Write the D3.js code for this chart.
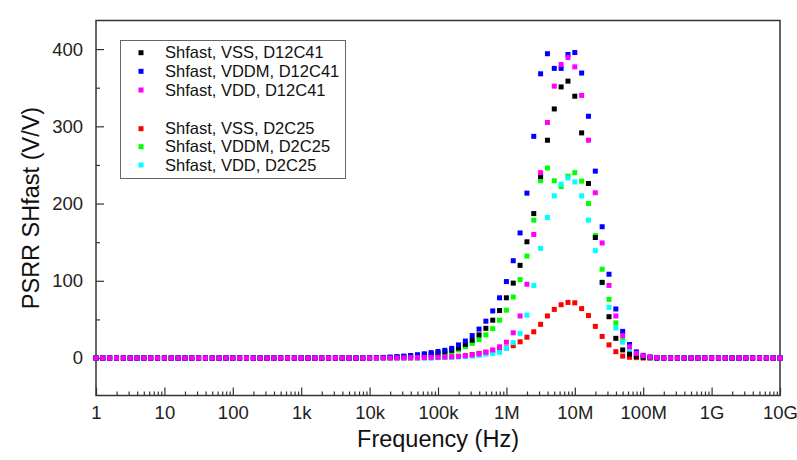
<!DOCTYPE html>
<html>
<head>
<meta charset="utf-8">
<script src="https://cdn.jsdelivr.net/npm/d3@7"></script>
<style>
  body { margin: 0; background: #fff; }
  svg { font-family: "Liberation Sans", Arial, sans-serif; }
  .axis path { display: none; }
  .axis line { stroke: #333; stroke-width: 1.2; }
  .axis text { fill: #222; font-size: 18.5px; }
</style>
</head>
<body>
<div id="chart"></div>
<script>
// Frequency sweep, log10(Hz), 10 points per decade
const logFreq = [
  0,0.1,0.2,0.3,0.4,0.5,0.6,0.7,0.8,0.9,
  1,1.1,1.2,1.3,1.4,1.5,1.6,1.7,1.8,1.9,
  2,2.1,2.2,2.3,2.4,2.5,2.6,2.7,2.8,2.9,
  3,3.1,3.2,3.3,3.4,3.5,3.6,3.7,3.8,3.9,
  4,4.1,4.2,4.3,4.4,4.5,4.6,4.7,4.8,4.9,
  5,5.1,5.2,5.3,5.4,5.5,5.6,5.7,5.8,5.9,
  6,6.1,6.2,6.3,6.4,6.5,6.6,6.7,6.8,6.9,
  7,7.1,7.2,7.3,7.4,7.5,7.6,7.7,7.8,7.9,
  8,8.1,8.2,8.3,8.4,8.5,8.6,8.7,8.8,8.9,
  9,9.1,9.2,9.3,9.4,9.5,9.6,9.7,9.8,9.9,
  10
];

// PSRR values (V/V), one per frequency point
const vssD12 = [
  0,0,0,0,0,0,0,0,0,0,
  0,0,0,0,0,0,0,0,0,0,
  0,0,0,0,0,0,0,0,0,0,
  0,0,0,0,0,0,0,0,0,0,
  0.2,0.4,0.6,0.9,1.3,1.8,2.4,3.2,4.2,5.3,
  6.5,8,10,13,17.5,23,30,38.5,49,61.5,
  78,97,120,150.5,187,235,282,322.5,351,358.5,
  339,291.5,226,156,98,53.5,25.5,10.5,5,2,
  1,0.5,0,0,0,0,0,0,0,0,
  0,0,0,0,0,0,0,0,0,0,
  0
];
const vddmD12 = [
  0,0,0,0,0,0,0,0,0,0,
  0,0,0,0,0,0,0,0,0,0,
  0,0,0,0,0,0,0,0,0,0,
  0,0,0,0,0,0,0,0,0,0,
  0.3,0.5,0.8,1.2,1.8,2.5,3.3,4.3,5.5,7,
  8.5,10,12.5,17,22,29,37.5,47.7,61,78,
  99,126,162,213.5,287,368,394,375,375,393,
  395.5,369,313,242,170,108.5,63.5,34.5,17.5,8,
  3.5,1.5,0.5,0,0,0,0,0,0,0,
  0,0,0,0,0,0,0,0,0,0,
  0
];
const vddD12 = [
  0,0,0,0,0,0,0,0,0,0,
  0,0,0,0,0,0,0,0,0,0,
  0,0,0,0,0,0,0,0,0,0,
  0,0,0,0,0,0,0,0,0,0,
  0,0,0,0,0.2,0.3,0.4,0.5,0.7,0.8,
  1,1.3,1.7,2.2,3,4,5.5,7.5,10.5,14.6,
  20.5,32.7,54.5,95.5,160,240,305,352,380,389,
  377,340,282,214,149,94,54.5,29,14.5,6,
  3,1,0.5,0,0,0,0,0,0,0,
  0,0,0,0,0,0,0,0,0,0,
  0
];
const vssD2 = [
  0,0,0,0,0,0,0,0,0,0,
  0,0,0,0,0,0,0,0,0,0,
  0,0,0,0,0,0,0,0,0,0,
  0,0,0,0,0,0,0,0,0,0,
  0,0,0,0,0,0,0,0,0.3,0.5,
  0.8,1.2,1.6,2.2,3,4.5,6,7.5,9,11,
  13,16,21,27,34,43.6,54.5,63,69,72,
  71.5,64,55,41,28,17,8.2,2.5,1,0.5,
  0,0,0,0,0,0,0,0,0,0,
  0,0,0,0,0,0,0,0,0,0,
  0
];
const vddmD2 = [
  0,0,0,0,0,0,0,0,0,0,
  0,0,0,0,0,0,0,0,0,0,
  0,0,0,0,0,0,0,0,0,0,
  0,0,0,0,0,0,0,0,0,0,
  0,0,0,0,0.5,0.8,1.2,1.8,2.6,3.6,
  5,6.5,8,10.5,14.6,19,24,30,38,49,
  62,79,101.5,132,178.5,229.5,246,229.5,222,235.5,
  240,229,200,158.7,115,76,45.5,23,10,4,
  1.5,0.5,0,0,0,0,0,0,0,0,
  0,0,0,0,0,0,0,0,0,0,
  0
];
const vddD2 = [
  0,0,0,0,0,0,0,0,0,0,
  0,0,0,0,0,0,0,0,0,0,
  0,0,0,0,0,0,0,0,0,0,
  0,0,0,0,0,0,0,0,0,0,
  0,0,0,0,0,0,0,0,0,0,
  0.5,0.8,1,1.3,1.8,2.5,3.5,5,6,7.5,
  12.5,20,32,55.6,94,142,182,210,225,233,
  228,210,178.5,139,97.4,65.6,39,20.5,9,3.5,
  1.5,0.5,0,0,0,0,0,0,0,0,
  0,0,0,0,0,0,0,0,0,0,
  0
];

const seriesNames = [
  "Shfast, VSS, D12C41", "Shfast, VDDM, D12C41", "Shfast, VDD, D12C41",
  "Shfast, VSS, D2C25", "Shfast, VDDM, D2C25", "Shfast, VDD, D2C25"
];
const seriesValues = [vssD12, vddmD12, vddD12, vssD2, vddmD2, vddD2];
const seriesColors = ["#000000", "#0000ff", "#ff00ff", "#ff0000", "#00ff00", "#00ffff"];

const xTickValues = [1, 1e1, 1e2, 1e3, 1e4, 1e5, 1e6, 1e7, 1e8, 1e9, 1e10];
const xTickLabels = ["1", "10", "100", "1k", "10k", "100k", "1M", "10M", "100M", "1G", "10G"];
const yTickValues = [0, 100, 200, 300, 400];
const yMinorValues = [50, 150, 250, 350];

// layout
const W = 797, H = 460;
const plotLeft = 96, plotRight = 780, plotTop = 20.5, plotBottom = 395.5;

const svg = d3.select("#chart")
    .append("svg")
    .attr("width", W)
    .attr("height", H);

const x = d3.scaleLog()
    .domain([1, 1e10])
    .range([plotLeft, plotRight]);

const y = d3.scaleLinear()
    .domain([-48.5, 437])
    .range([plotBottom, plotTop]);

// minor log ticks 2..9 in every decade
const xMinor = [];
xTickValues.slice(0, -1).forEach(d => {
    for (let k = 2; k <= 9; k++) xMinor.push(d * k);
});

// X axis (ticks inside)
svg.append("g")
    .attr("class", "axis")
    .attr("transform", "translate(0," + plotBottom + ")")
    .call(d3.axisBottom(x).tickValues(xMinor).tickSize(-4).tickFormat(""));

svg.append("g")
    .attr("class", "axis")
    .attr("transform", "translate(0," + plotBottom + ")")
    .call(d3.axisBottom(x)
        .tickValues(xTickValues)
        .tickSize(-8)
        .tickPadding(10)
        .tickFormat((d, i) => xTickLabels[i]));

// Y axis (ticks inside)
svg.append("g")
    .attr("class", "axis")
    .attr("transform", "translate(" + plotLeft + ",0)")
    .call(d3.axisLeft(y).tickValues(yMinorValues).tickSize(-4).tickFormat(""));

svg.append("g")
    .attr("class", "axis")
    .attr("transform", "translate(" + plotLeft + ",0)")
    .call(d3.axisLeft(y)
        .tickValues(yTickValues)
        .tickSize(-8)
        .tickPadding(13)
        .tickFormat(d3.format("d")));

// frame
svg.append("rect")
    .attr("x", plotLeft)
    .attr("y", plotTop)
    .attr("width", plotRight - plotLeft)
    .attr("height", plotBottom - plotTop)
    .attr("fill", "none")
    .attr("stroke", "#333")
    .attr("stroke-width", 1.5);

// data points, drawn so that the VDD D12C41 set ends on top
const drawOrder = [3, 4, 5, 0, 1, 2];
const ms = 5;
drawOrder.forEach(s => {
    svg.append("g")
        .selectAll("rect")
        .data(seriesValues[s])
        .enter()
        .append("rect")
        .attr("x", (d, i) => x(Math.pow(10, logFreq[i])) - ms / 2)
        .attr("y", d => y(d) - ms / 2)
        .attr("width", ms)
        .attr("height", ms)
        .attr("fill", seriesColors[s]);
});

// legend
const legend = svg.append("g");
legend.append("rect")
    .attr("x", 120.5)
    .attr("y", 40.5)
    .attr("width", 225)
    .attr("height", 138)
    .attr("fill", "#fff")
    .attr("stroke", "#666")
    .attr("stroke-width", 1);

const legendRows = [52.7, 71.3, 90, 128.7, 146.7, 165];
seriesNames.forEach((name, i) => {
    legend.append("rect")
        .attr("x", 141 - ms / 2)
        .attr("y", legendRows[i] - ms / 2)
        .attr("width", ms)
        .attr("height", ms)
        .attr("fill", seriesColors[i]);
    legend.append("text")
        .attr("x", 165)
        .attr("y", legendRows[i])
        .attr("dy", "0.35em")
        .attr("font-size", 16.5)
        .attr("fill", "#111")
        .text(name);
});

// axis titles
svg.append("text")
    .attr("x", (plotLeft + plotRight) / 2)
    .attr("y", 447)
    .attr("text-anchor", "middle")
    .attr("font-size", 23.5)
    .attr("fill", "#111")
    .text("Frequency (Hz)");

svg.append("text")
    .attr("transform", "translate(39," + ((plotTop + plotBottom) / 2) + ") rotate(-90)")
    .attr("text-anchor", "middle")
    .attr("font-size", 23.5)
    .attr("fill", "#111")
    .text("PSRR SHfast (V/V)");
</script>
</body>
</html>
